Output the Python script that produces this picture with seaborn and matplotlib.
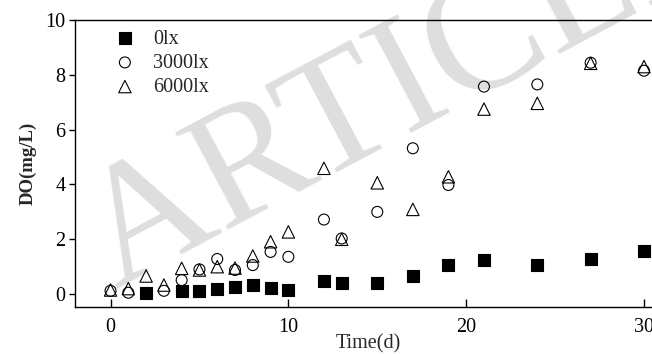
import matplotlib
matplotlib.use("Agg")
import matplotlib.pyplot as plt
import seaborn as sns
import pandas as pd

# DO over time under three light intensities
days_0lx = [2, 4, 5, 6, 7, 8, 9, 10, 12, 13, 15, 17, 19, 21, 24, 27, 30]
do_0lx = [0.05, 0.12, 0.13, 0.17, 0.27, 0.33, 0.23, 0.15, 0.47, 0.39, 0.39,
          0.66, 1.06, 1.24, 1.06, 1.28, 1.57]

days_light = [0, 1, 3, 4, 5, 6, 7, 8, 9, 10, 12, 13, 15, 17, 19, 21, 24, 27, 30]
do_3000lx = [0.12, 0.05, 0.12, 0.51, 0.90, 1.28, 0.88, 1.06, 1.54, 1.36, 2.72,
             2.03, 3.00, 5.32, 3.98, 7.57, 7.65, 8.44, 8.15]

days_6000lx = [0, 1, 2, 3, 4, 5, 6, 7, 8, 9, 10, 12, 13, 15, 17, 19, 21, 24, 27, 30]
do_6000lx = [0.15, 0.20, 0.66, 0.33, 0.94, 0.88, 1.00, 0.95, 1.39, 1.91, 2.27,
             4.59, 2.00, 4.06, 3.09, 4.28, 6.75, 6.96, 8.42, 8.30]

df0 = pd.DataFrame({"Time": days_0lx, "DO": do_0lx})
df3 = pd.DataFrame({"Time": days_light, "DO": do_3000lx})
df6 = pd.DataFrame({"Time": days_6000lx, "DO": do_6000lx})

sns.set_style("white")
plt.rcParams["font.family"] = ["Liberation Serif", "DejaVu Serif"]

fig = plt.figure(figsize=(6.52, 3.54), dpi=100)

# watermark behind the axes
fig.text(0.625, 0.754, "ARTICLE", fontsize=122, color="#dedede", rotation=28,
         ha="center", va="center", rotation_mode="anchor", zorder=0)

ax = fig.add_axes([0.115, 0.1328, 0.900, 0.8107], zorder=1)
ax.patch.set_alpha(0)

sns.scatterplot(x="Time", y="DO", data=df0, ax=ax, marker="s", s=75,
                color="black", edgecolor="black", linewidth=0.8, label="0lx")
sns.scatterplot(x="Time", y="DO", data=df3, ax=ax, marker="o", s=62,
                facecolor="none", edgecolor="black", linewidth=0.8, label="3000lx")
sns.scatterplot(x="Time", y="DO", data=df6, ax=ax, marker="^", s=80,
                facecolor="none", edgecolor="black", linewidth=0.8, label="6000lx")

ax.set_xlim(-2, 31)
ax.set_ylim(-0.47, 10)
ax.set_xticks([0, 10, 20, 30])
ax.set_yticks([0, 2, 4, 6, 8, 10])

for side in ["left", "bottom", "top"]:
    ax.spines[side].set_color("black")
    ax.spines[side].set_linewidth(1.0)
ax.spines["right"].set_visible(False)

ax.tick_params(axis="x", direction="in", length=6, width=1, labelsize=14.5,
               colors="black", pad=8, bottom=True)
ax.tick_params(axis="y", direction="out", length=4, width=1, labelsize=14.5,
               colors="black", left=True, pad=3)

ax.set_xlabel("Time(d)", fontsize=14.5, labelpad=-2)
ax.set_ylabel("DO(mg/L)", fontsize=13.5, fontweight="bold", labelpad=6)

ax.legend(loc="upper left", bbox_to_anchor=(0.037, 0.995), frameon=False,
          fontsize=14.5, handletextpad=0.4, labelspacing=0.25,
          borderaxespad=0)

fig.savefig("out.png", dpi=100)
